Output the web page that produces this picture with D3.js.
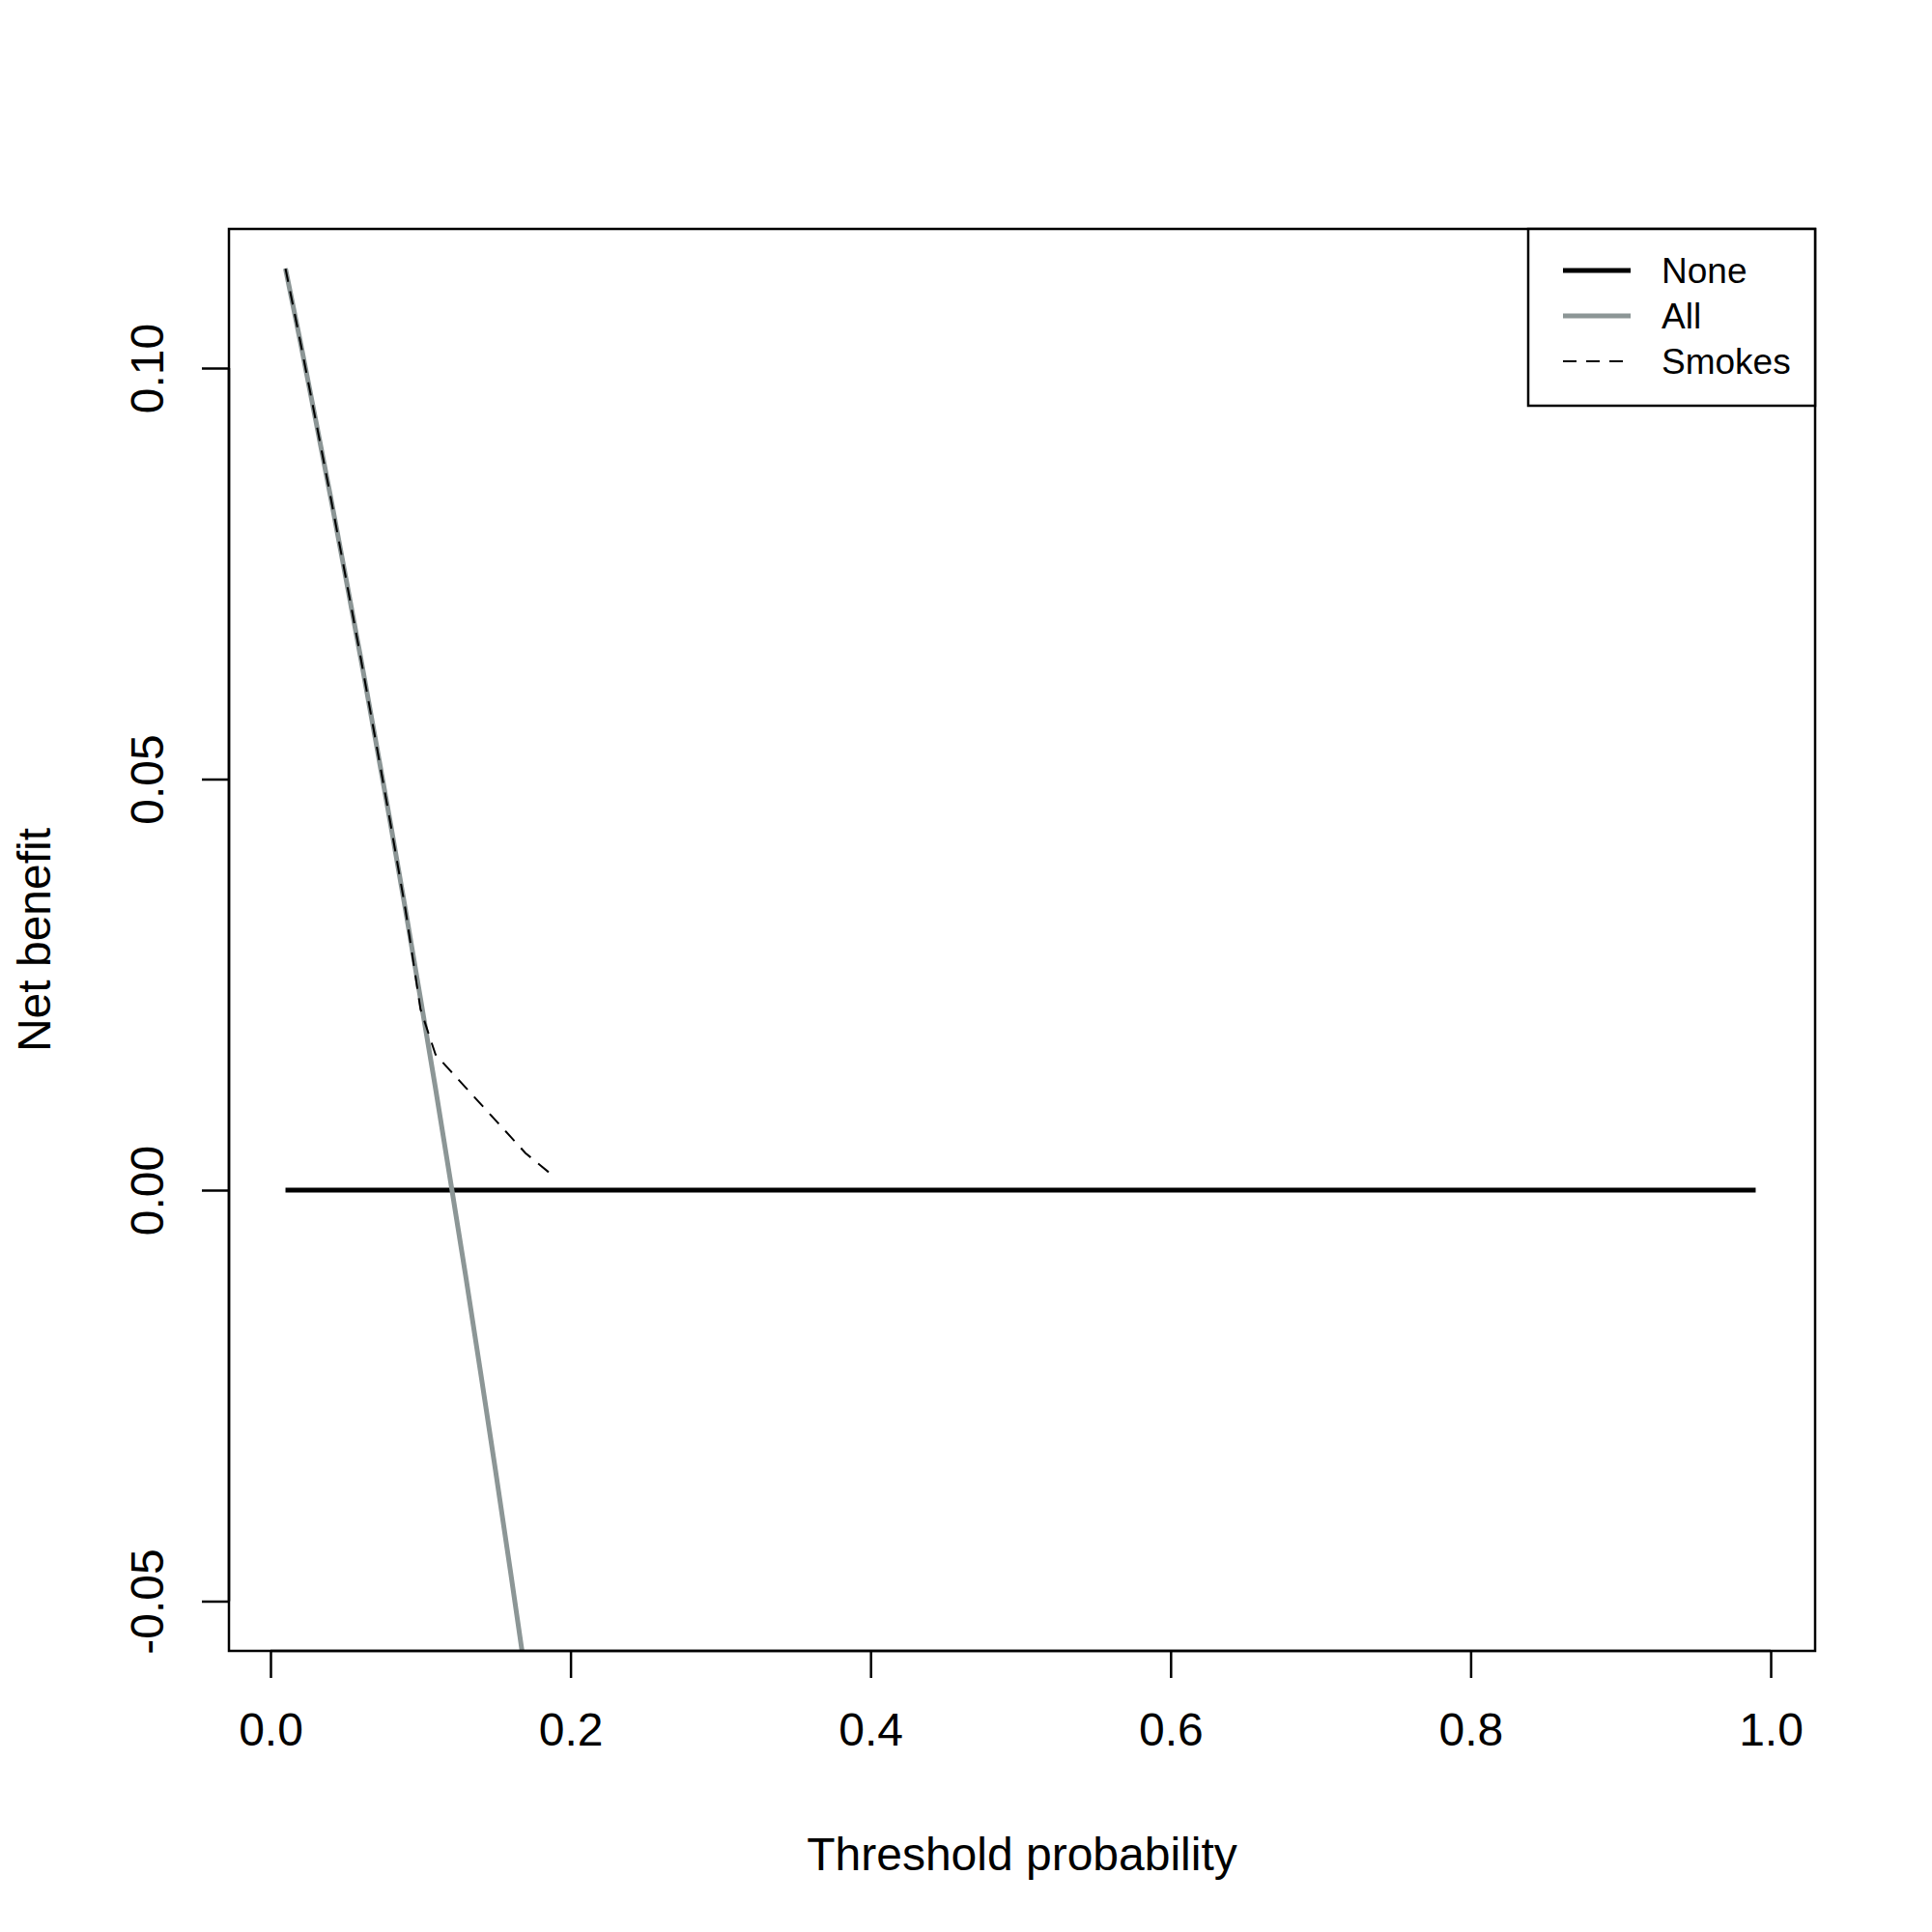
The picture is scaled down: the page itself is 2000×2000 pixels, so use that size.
<!DOCTYPE html>
<html>
<head>
<meta charset="utf-8">
<script src="https://cdn.jsdelivr.net/npm/d3@7"></script>
<style>
  body { margin: 0; background: #fff; }
  text { font-family: "Liberation Sans", Arial, sans-serif; fill: #000; }
</style>
</head>
<body>
<div id="root"></div>
<script>
// values
const thresholds = [0.01,0.02,0.03,0.04,0.05,0.06,0.07,0.08,0.09,0.10,0.11,0.12,0.13,0.14,0.15,0.16,0.17]
const netAll = [0.1121,0.1031,0.0938,0.0844,0.0747,0.0649,0.0548,0.0446,0.0341,0.0233,0.0124,0.0011,-0.0103,-0.0221,-0.0341,-0.0464,-0.0590]
const smokesT = [0.01,0.02,0.03,0.04,0.05,0.06,0.07,0.08,0.09,0.10,0.11,0.12,0.13,0.14,0.15,0.16,0.17,0.18,0.19]
const netSmokes = [0.1121,0.1031,0.0938,0.0844,0.0747,0.0649,0.0548,0.0446,0.0341,0.0220,0.0165,0.0145,0.0125,0.0105,0.0085,0.0065,0.0045,0.0030,0.0015]
const noneT = [0.01, 0.99]
const netNone = [0, 0]
const xTicks = [0, 0.2, 0.4, 0.6, 0.8, 1.0]
const yTicks = [-0.05, 0, 0.05, 0.10]
const legendNames = ["None", "All", "Smokes"]

const W = 2000, H = 2000
const box = {left: 237, right: 1879, top: 237, bottom: 1709}

const svg = d3.select('#root').append('svg')
  .attr('width', W).attr('height', H)

const x = d3.scaleLinear().domain([0, 1]).range([280, 1833])
const y = d3.scaleLinear().domain([0, 0.10]).range([1232, 381])

svg.append('clipPath').attr('id', 'plot')
  .append('rect')
  .attr('x', box.left).attr('y', box.top)
  .attr('width', box.right - box.left).attr('height', box.bottom - box.top)

const line = d3.line().x(d => x(d[0])).y(d => y(d[1]))
const g = svg.append('g').attr('clip-path', 'url(#plot)')

g.append('path').datum(d3.zip(noneT, netNone)).attr('d', line)
  .attr('fill', 'none').attr('stroke', '#000').attr('stroke-width', 5)
g.append('path').datum(d3.zip(thresholds, netAll)).attr('d', line)
  .attr('fill', 'none').attr('stroke', '#8c9696').attr('stroke-width', 5)
g.append('path').datum(d3.zip(smokesT, netSmokes)).attr('d', line)
  .attr('fill', 'none').attr('stroke', '#000').attr('stroke-width', 2)
  .attr('stroke-dasharray', '14,10')

// frame
svg.append('rect')
  .attr('x', box.left).attr('y', box.top)
  .attr('width', box.right - box.left).attr('height', box.bottom - box.top)
  .attr('fill', 'none').attr('stroke', '#000').attr('stroke-width', 2.5)

// x axis
const xAxis = svg.append('g').attr('transform', `translate(0,${box.bottom})`)
  .call(d3.axisBottom(x).tickValues(xTicks).tickSize(28).tickPadding(36).tickFormat(d3.format('.1f')))
xAxis.select('.domain').attr('d', `M${x(0)},0H${x(1)}`).attr('stroke-width', 2.5)
xAxis.selectAll('.tick line').attr('stroke-width', 2.5)
xAxis.selectAll('text').attr('font-size', 48).attr('font-family', '"Liberation Sans", Arial, sans-serif')

// y axis
const yAxis = svg.append('g').attr('transform', `translate(${box.left},0)`)
  .call(d3.axisLeft(y).tickValues(yTicks).tickSize(28).tickFormat(d => d.toFixed(2)))
yAxis.select('.domain').attr('d', `M0,${y(-0.05)}V${y(0.10)}`).attr('stroke-width', 2.5)
yAxis.selectAll('.tick line').attr('stroke-width', 2.5)
yAxis.selectAll('text')
  .attr('font-size', 48).attr('font-family', '"Liberation Sans", Arial, sans-serif')
  .attr('x', null).attr('dy', null)
  .attr('text-anchor', 'middle')
  .attr('transform', 'translate(-68,0) rotate(-90)')

// titles
svg.append('text').attr('x', 1058).attr('y', 1936).attr('text-anchor', 'middle')
  .attr('font-size', 48).text('Threshold probability')
svg.append('text').attr('transform', 'translate(52,973) rotate(-90)').attr('text-anchor', 'middle')
  .attr('font-size', 48).text('Net benefit')

// legend
const lg = svg.append('g')
lg.append('rect').attr('x', 1582).attr('y', box.top).attr('width', box.right - 1582).attr('height', 183)
  .attr('fill', '#fff').attr('stroke', '#000').attr('stroke-width', 2.5)
const legendStyle = [
  {stroke: '#000', w: 5, dash: null},
  {stroke: '#8c9696', w: 5, dash: null},
  {stroke: '#000', w: 2, dash: '14,10'}
]
legendNames.forEach((name, i) => {
  const yy = 280 + i * 47
  lg.append('line').attr('x1', 1618).attr('x2', 1688).attr('y1', yy).attr('y2', yy)
    .attr('stroke', legendStyle[i].stroke).attr('stroke-width', legendStyle[i].w)
    .attr('stroke-dasharray', legendStyle[i].dash)
  lg.append('text').attr('x', 1720).attr('y', yy + 13).attr('font-size', 37).text(name)
})
</script>
</body>
</html>
